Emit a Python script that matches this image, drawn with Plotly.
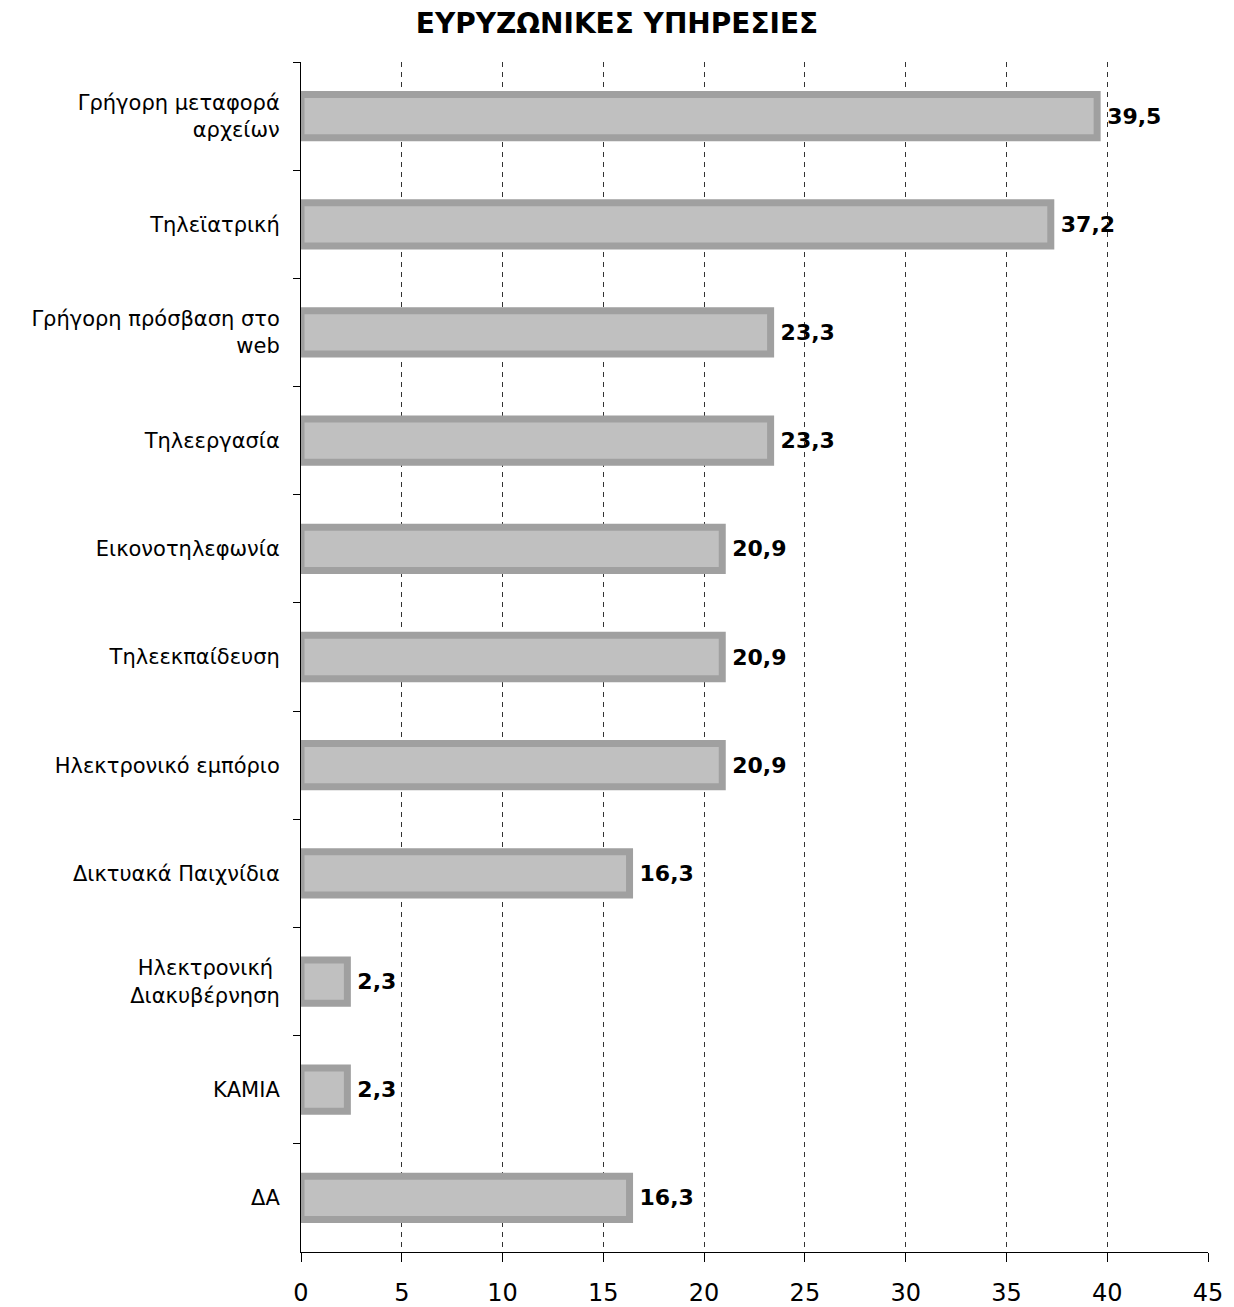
import plotly.graph_objects as go

categories = [
    "Γρήγορη μεταφορά<br>αρχείων",
    "Τηλεϊατρική",
    "Γρήγορη πρόσβαση στο<br>web",
    "Τηλεεργασία",
    "Εικονοτηλεφωνία",
    "Τηλεεκπαίδευση",
    "Ηλεκτρονικό εμπόριο",
    "Δικτυακά Παιχνίδια",
    "Ηλεκτρονική <br>Διακυβέρνηση",
    "ΚΑΜΙΑ",
    "ΔΑ",
]
values = [39.5, 37.2, 23.3, 23.3, 20.9, 20.9, 20.9, 16.3, 2.3, 2.3, 16.3]
value_labels = [f"{v:.1f}".replace(".", ",") for v in values]
x_ticks = [0, 5, 10, 15, 20, 25, 30, 35, 40, 45]

FONT = "DejaVu Sans"

fig = go.Figure(
    go.Bar(
        x=values,
        y=categories,
        orientation="h",
        width=0.4,
        marker=dict(color="#c0c0c0", line=dict(color="#a0a0a0", width=7)),
        text=[f"\u00a0<b>{t}</b>" for t in value_labels],
        textposition="outside",
        textfont=dict(family=FONT, size=22, color="black"),
        cliponaxis=False,
    )
)

fig.update_layout(
    width=1234,
    height=1307,
    paper_bgcolor="white",
    plot_bgcolor="white",
    margin=dict(l=301, r=26, t=62, b=55),
    showlegend=False,
    title=dict(
        text="<b>ΕΥΡΥΖΩΝΙΚΕΣ ΥΠΗΡΕΣΙΕΣ</b>",
        x=0.5,
        xanchor="center",
        y=1 - 23 / 1307,
        yanchor="middle",
        font=dict(family=FONT, size=28, color="black"),
    ),
    font=dict(family=FONT, color="black"),
)

fig.update_xaxes(
    range=[0, 45],
    tickvals=x_ticks,
    ticktext=[str(t) for t in x_ticks],
    showgrid=True,
    gridcolor="#333333",
    griddash="5px,5px",
    gridwidth=1,
    zeroline=False,
    showline=True,
    linecolor="black",
    linewidth=1,
    ticks="outside",
    ticklen=9,
    tickcolor="black",
    tickfont=dict(family=FONT, size=24, color="black"),
    ticklabelstandoff=10,
    automargin=False,
)

fig.update_yaxes(
    autorange="reversed",
    type="category",
    showgrid=False,
    showline=True,
    linecolor="black",
    linewidth=1,
    ticks="outside",
    ticklen=7,
    tickcolor="black",
    tickson="boundaries",
    tickfont=dict(family=FONT, size=21, color="black"),
    ticklabelstandoff=16,
    automargin=False,
)

fig.write_html(
    "out.html",
    config={"displayModeBar": False},
    post_script="document.body.style.margin='0';document.body.style.padding='0';",
)
